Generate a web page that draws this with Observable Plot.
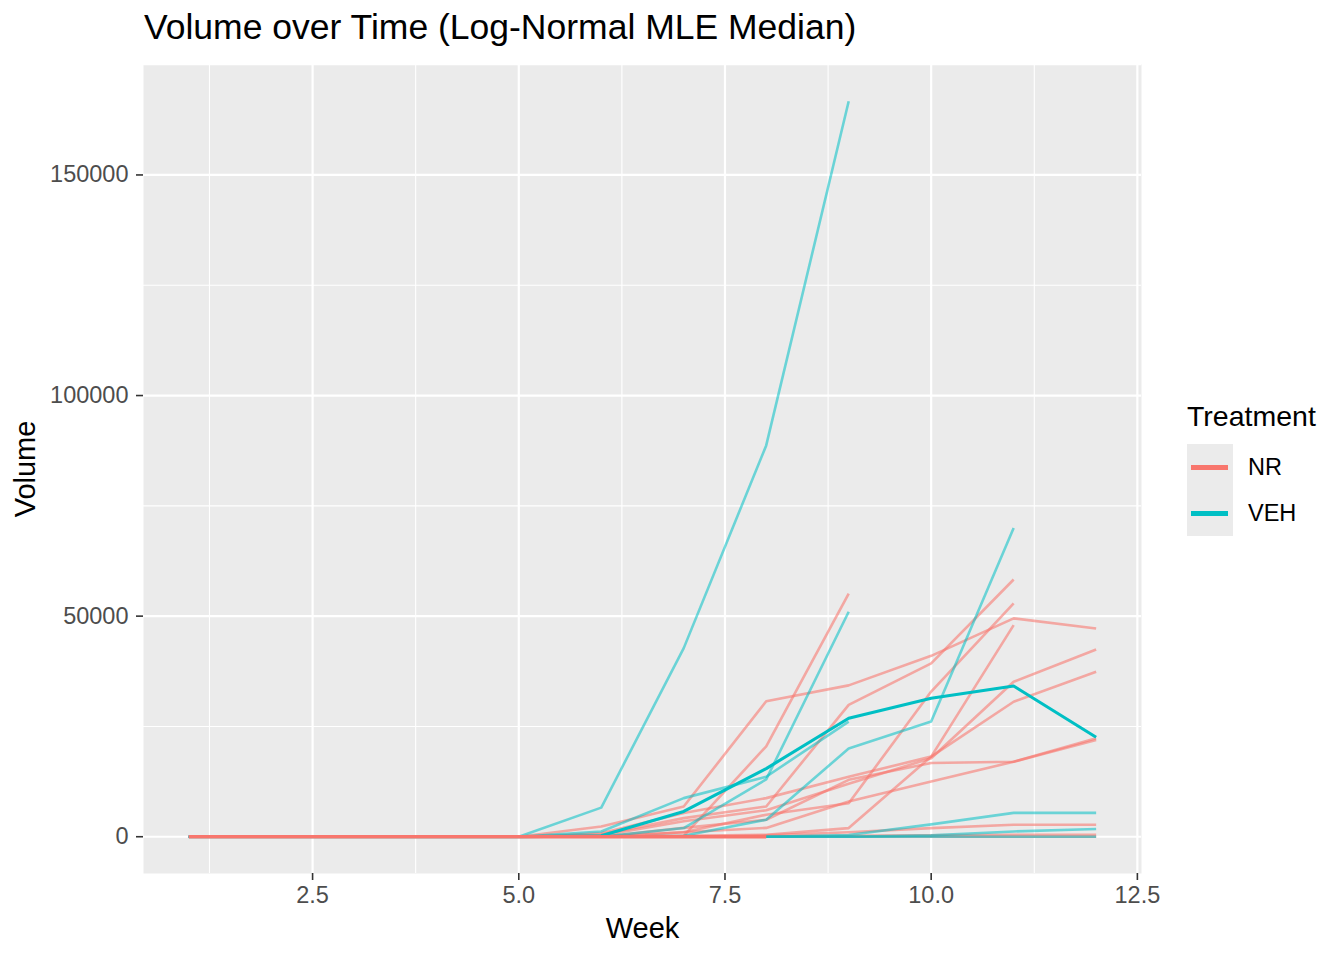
<!DOCTYPE html>
<html>
<head>
<meta charset="utf-8">
<script src="https://cdn.jsdelivr.net/npm/d3@7"></script>
<script src="https://cdn.jsdelivr.net/npm/@observablehq/plot@0.6"></script>
<style>
  html, body { margin: 0; padding: 0; background: #ffffff; }
  #wrap { position: relative; width: 1344px; height: 960px; font-family: "Liberation Sans", Arial, sans-serif; }
  #title { position: absolute; left: 144px; top: 10px; font-size: 35.5px; line-height: 1; color: #000; white-space: nowrap; }
  #legend-title { position: absolute; left: 1187px; top: 402px; font-size: 28.5px; line-height: 1; color: #000; }
  #legend-box { position: absolute; left: 1187px; top: 444px; width: 46px; height: 92px; background: #EBEBEB; }
  .key { position: absolute; left: 1191px; width: 37px; height: 5px; }
  .lab { position: absolute; left: 1248px; font-size: 23.5px; line-height: 1; color: #000; }
  svg [aria-label="x-axis tick"], svg [aria-label="y-axis tick"] { stroke: #333333; stroke-width: 1.6px; }
  svg [aria-label="x-axis tick label"], svg [aria-label="y-axis tick label"] { fill: #4D4D4D; font-size: 23.5px; }
  svg [aria-label="x-axis label"], svg [aria-label="y-axis label"] { fill: #000; font-size: 29px; }
</style>
</head>
<body>
<div id="wrap">
  <div id="chart"></div>
  <div id="title"></div>
  <div id="legend"></div>
</div>
<script>
// ---------- data ----------
const titleText = "Volume over Time (Log-Normal MLE Median)";
const xLabel = "Week";
const yLabel = "Volume";
const legendTitle = "Treatment";
const treatments = ["NR", "VEH"];
const treatmentColors = ["#F8766D", "#00BFC4"];

const weeks = [1, 2, 3, 4, 5, 6, 7, 8, 9, 10, 11, 12];

const xTicks = [2.5, 5.0, 7.5, 10.0, 12.5];
const xMinor = [1.25, 3.75, 6.25, 8.75, 11.25];
const yTicks = [0, 50000, 100000, 150000];
const yMinor = [25000, 75000, 125000, 175000];

// NR subjects (volume per week, null = no measurement)
const nr01 = [0, 0, 0, 0, 0, 0, 200, 20500, 55100, null, null, null];
const nr02 = [0, 0, 0, 0, 0, 2330, 6860, 30700, 34300, 41000, 49500, 47200];
const nr03 = [0, 0, 0, 0, 0, 500, 4220, 6860, 29900, 39300, 58300, null];
const nr04 = [0, 0, 0, 0, 0, 0, 1000, 5000, 7600, 32900, 52900, null];
const nr05 = [0, 0, 0, 0, 0, 0, 200, 450, 1960, 18160, 47950, null];
const nr06 = [0, 0, 0, 0, 0, 800, 5360, 8750, 13600, 18160, 30600, 37400];
const nr07 = [0, 0, 0, 0, 0, 300, 3500, 6000, 12000, 17800, 35130, 42450];
const nr08 = [0, 0, 0, 0, 0, 0, 2000, 3850, 12900, 16700, 17000, 22300];
const nr09 = [0, 0, 0, 0, 0, 0, 1000, 2000, 8000, 12500, 17000, 21900];
const nr10 = [0, 0, 0, 0, 0, 0, 0, 300, 1000, 1960, 2700, 2700];
const nr11 = [0, 0, 0, 0, 0, 0, 0, 0, 200, 300, 450, 450];
const nr12 = [0, 0, 0, 0, 0, 0, 0, 0, 0, 0, 0, 0];

// VEH subjects
const veh01 = [0, 0, 0, 0, 0, 6600, 42750, 88700, 166700, null, null, null];
const veh02 = [0, 0, 0, 0, 0, 1200, 8750, 13600, 26100, null, null, null];
const veh03 = [0, 0, 0, 0, 0, 0, 1960, 13000, 51000, null, null, null];
const veh04 = [0, 0, 0, 0, 0, 0, 200, 3850, 20000, 26100, 70000, null];
const veh05 = [0, 0, 0, 0, 0, 0, 0, 0, 400, 2800, 5400, 5400];
const veh06 = [0, 0, 0, 0, 0, 0, 0, 0, 0, 300, 1200, 1740];
const veh07 = [0, 0, 0, 0, 0, 0, 0, 0, 0, 0, 0, 0];

// Log-normal MLE medians
const nrMedian = [0, 0, 0, 0, 0, 0, 0, 0, null, null, null, null];
const vehMedian = [0, 0, 0, 0, 0, 200, 5720, 15450, 26850, 31370, 34160, 22550];

// ---------- build tables ----------
function toRows(values, group, id) {
  return values.map((v, i) => ({week: weeks[i], volume: v, group, id}))
               .filter(d => d.volume !== null);
}
const nrSubjects = [nr01, nr02, nr03, nr04, nr05, nr06, nr07, nr08, nr09, nr10, nr11, nr12];
const vehSubjects = [veh01, veh02, veh03, veh04, veh05, veh06, veh07];
const nrRows = nrSubjects.flatMap((s, i) => toRows(s, "NR", "NR" + i));
const vehRows = vehSubjects.flatMap((s, i) => toRows(s, "VEH", "VEH" + i));
const nrMedRows = toRows(nrMedian, "NR", "NRmed");
const vehMedRows = toRows(vehMedian, "VEH", "VEHmed");

const allVals = [...nrRows, ...vehRows].map(d => d.volume);
const yMin = Math.min(0, d3.min(allVals)), yMax = d3.max(allVals);
const yPad = (yMax - yMin) * 0.05;
const xPad = (d3.max(weeks) - d3.min(weeks)) * 0.05;

const chart = Plot.plot({
  width: 1344,
  height: 960,
  marginLeft: 143,
  marginRight: 203,
  marginTop: 64,
  marginBottom: 87,
  style: {fontFamily: "'Liberation Sans', Arial, sans-serif", background: "#ffffff"},
  x: {domain: [d3.min(weeks) - xPad, d3.max(weeks) + xPad]},
  y: {domain: [yMin - yPad, yMax + yPad]},
  color: {domain: treatments, range: treatmentColors},
  marks: [
    Plot.frame({fill: "#EBEBEB", stroke: null}),
    Plot.gridX(xMinor, {stroke: "#ffffff", strokeOpacity: 1, strokeWidth: 1.1}),
    Plot.gridY(yMinor, {stroke: "#ffffff", strokeOpacity: 1, strokeWidth: 1.1}),
    Plot.gridX(xTicks, {stroke: "#ffffff", strokeOpacity: 1, strokeWidth: 2.2}),
    Plot.gridY(yTicks, {stroke: "#ffffff", strokeOpacity: 1, strokeWidth: 2.2}),
    Plot.line(nrRows, {x: "week", y: "volume", z: "id", stroke: "group", strokeOpacity: 0.58, strokeWidth: 2.6, strokeLinecap: "butt"}),
    Plot.line(vehRows, {x: "week", y: "volume", z: "id", stroke: "group", strokeOpacity: 0.55, strokeWidth: 2.6, strokeLinecap: "butt"}),
    Plot.line(vehMedRows, {x: "week", y: "volume", stroke: "group", strokeWidth: 3.1, strokeLinecap: "butt"}),
    Plot.line(nrMedRows, {x: "week", y: "volume", stroke: "group", strokeWidth: 3.4, strokeLinecap: "butt"}),
    Plot.axisX(xTicks, {tickFormat: d => d.toFixed(1), tickSize: 7, tickPadding: 6, label: xLabel, labelAnchor: "center", labelArrow: "none", labelOffset: 64}),
    Plot.axisY(yTicks, {tickFormat: d => String(d), tickSize: 7, tickPadding: 8, label: yLabel, labelAnchor: "center", labelArrow: "none", labelOffset: 129})
  ]
});
document.getElementById("chart").appendChild(chart);

document.getElementById("title").textContent = titleText;

// legend
const legend = document.getElementById("legend");
const lt = document.createElement("div");
lt.id = "legend-title"; lt.textContent = legendTitle; legend.appendChild(lt);
const box = document.createElement("div"); box.id = "legend-box"; legend.appendChild(box);
treatments.forEach((t, i) => {
  const k = document.createElement("div");
  k.className = "key";
  k.style.top = (464.5 + i * 46) + "px";
  k.style.background = treatmentColors[i];
  legend.appendChild(k);
  const l = document.createElement("div");
  l.className = "lab";
  l.style.top = (455.5 + i * 46) + "px";
  l.textContent = t;
  legend.appendChild(l);
});
</script>
</body>
</html>
